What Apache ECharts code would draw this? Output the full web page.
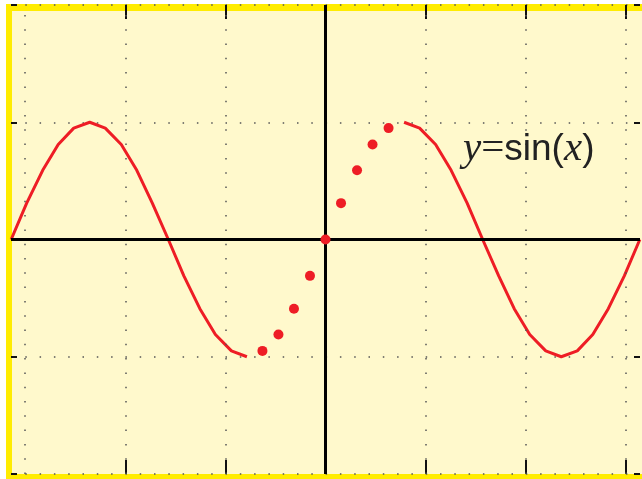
<!DOCTYPE html>
<html>
<head>
<meta charset="utf-8">
<style>
  html, body { margin: 0; padding: 0; background: #ffffff; }
  #main { width: 642px; height: 479px; }
</style>
<script src="https://cdn.jsdelivr.net/npm/echarts@6/dist/echarts.min.js"></script>
</head>
<body>
<div id="main"></div>
<script>
// 曲线数据（从图上读出的点）
var leftX = [-6.28, -5.97, -5.65, -5.34, -5.03, -4.71, -4.40, -4.08, -3.77, -3.46, -3.14, -2.83, -2.51, -2.20, -1.88, -1.57];
var leftY = [0, 0.31, 0.59, 0.81, 0.95, 1.00, 0.95, 0.81, 0.59, 0.31, 0, -0.31, -0.59, -0.81, -0.95, -1.00];
var dotX = [-1.26, -0.94, -0.63, -0.31, 0, 0.31, 0.63, 0.94, 1.26];
var dotY = [-0.95, -0.81, -0.59, -0.31, 0, 0.31, 0.59, 0.81, 0.95];
var rightX = [1.57, 1.88, 2.20, 2.51, 2.83, 3.14, 3.46, 3.77, 4.08, 4.40, 4.71, 5.03, 5.34, 5.65, 5.97, 6.28];
var rightY = [1.00, 0.95, 0.81, 0.59, 0.31, 0, -0.31, -0.59, -0.81, -0.95, -1.00, -0.95, -0.81, -0.59, -0.31, 0];

// 网格线和刻度
var xGridValues = [-6, -4, -2, 2, 4, 6];
var xTickValues = [-4, -2, 0, 2, 4, 6];
var yTickValues = [-2, -1, 1, 2];

function pairs(xs, ys) {
    return xs.map(function (x, i) { return [x, ys[i]]; });
}

var red = '#ee1d25';
var myChart = echarts.init(document.getElementById('main'));

var tickStyleX = { show: true, inside: true, length: 14, lineStyle: { color: '#111', width: 2 }, customValues: xTickValues };
var tickStyleY = { show: true, inside: true, length: 6, lineStyle: { color: '#111', width: 2 }, customValues: yTickValues };
var dotted = { color: '#555', width: 1.5, type: [1.5, 12.8] };
var noLine = { show: false, onZero: false };

var option = {
    backgroundColor: '#fff9cc',
    animation: false,
    grid: { left: 11, right: 2, top: 5, bottom: 5 },
    xAxis: [
        { type: 'value', position: 'bottom', min: -6.2832, max: 6.2832,
          axisLine: noLine, axisTick: tickStyleX, axisLabel: { show: false }, splitLine: { show: false } },
        { type: 'value', position: 'top', min: -6.2832, max: 6.2832,
          axisLine: noLine, axisTick: tickStyleX, axisLabel: { show: false }, splitLine: { show: false } }
    ],
    yAxis: [
        { type: 'value', position: 'left', min: -2, max: 2, interval: 1,
          axisLine: noLine, axisTick: tickStyleY, axisLabel: { show: false },
          splitLine: { show: true, lineStyle: dotted } },
        { type: 'value', position: 'right', min: -2, max: 2, interval: 1,
          axisLine: noLine, axisTick: tickStyleY, axisLabel: { show: false }, splitLine: { show: false } }
    ],
    graphic: [
        { type: 'rect', z: -10, shape: { x: 0, y: 0, width: 642, height: 4 }, style: { fill: '#ffffff' } },
        { type: 'rect', z: -10, shape: { x: 0, y: 0, width: 6, height: 479 }, style: { fill: '#ffffff' } },
        { type: 'rect', z: -9, shape: { x: 6, y: 4, width: 636, height: 7 }, style: { fill: '#ffec00' } },
        { type: 'rect', z: -9, shape: { x: 6, y: 4, width: 6, height: 475 }, style: { fill: '#ffec00' } },
        { type: 'rect', z: -9, shape: { x: 6, y: 474, width: 636, height: 5 }, style: { fill: '#ffec00' } },
        { type: 'text', z: 10, left: 463, top: 129,
          style: {
              text: '{i|y}{e|=}{s|sin(}{i|x}{s|)}',
              fill: '#222',
              rich: {
                  i: { fontFamily: 'Liberation Serif', fontStyle: 'italic', fontSize: 41, fill: '#222' },
                  e: { fontFamily: 'Liberation Serif', fontSize: 41, fill: '#222' },
                  s: { fontFamily: 'Liberation Sans', fontSize: 37, fill: '#222' }
              }
          } }
    ],
    series: [
        {   // 竖向点线网格
            type: 'line', data: [], silent: true,
            markLine: { symbol: 'none', silent: true, label: { show: false }, lineStyle: dotted,
                data: xGridValues.map(function (v) { return { xAxis: v }; }) }
        },
        {   // 坐标轴线
            type: 'line', data: [], silent: true,
            markLine: { symbol: 'none', silent: true, label: { show: false },
                lineStyle: { color: '#000', width: 3, type: 'solid' },
                data: [{ xAxis: 0 }, { yAxis: 0 }] }
        },
        { name: 'left', type: 'line', showSymbol: false, data: pairs(leftX, leftY),
          lineStyle: { color: red, width: 3 }, itemStyle: { color: red } },
        { name: 'right', type: 'line', showSymbol: false, data: pairs(rightX, rightY),
          lineStyle: { color: red, width: 3 }, itemStyle: { color: red } },
        { name: 'dots', type: 'scatter', symbolSize: 10, data: pairs(dotX, dotY),
          itemStyle: { color: red, opacity: 1 }, z: 5 }
    ]
};

myChart.setOption(option);
</script>
</body>
</html>
